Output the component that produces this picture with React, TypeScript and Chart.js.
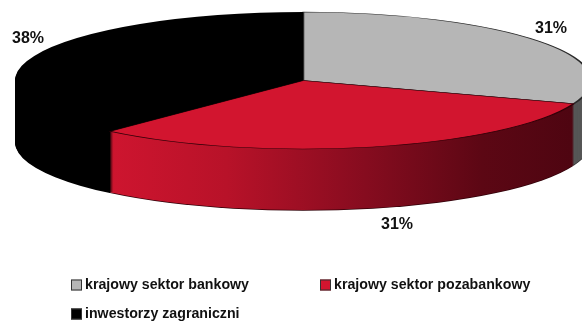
import React, { useEffect, useRef } from "react";
import { Chart, registerables } from "chart.js";

Chart.register(...registerables);

const categories = ["krajowy sektor bankowy", "krajowy sektor pozabankowy", "inwestorzy zagraniczni"];
const values = [30.5, 31.2, 38.3];
const valueLabels = ["31%", "31%", "38%"];
const topColors = ["#B6B6B6", "#D2152F", "#000000"];
const sideColors = ["#565656", "#D2152F", "#000000"];
const edgeColors = ["#2a2a2a", "#300008", "#000000"];
const topBorderWidths = [1.4, 1.4, 0];

const CX = 303, CY = 80.5, RX = 288, RY = 68.5, DEPTH = 61;
const labelPos: [number, number][] = [[551, 28], [397, 224], [28, 38]];
const legendPos: [number, number][] = [[71, 285], [320, 285], [71, 314]];

const pie3d = {
  id: "pie3d",
  beforeDatasetsDraw(chart: any) {
    const ctx = chart.ctx;
    const meta = chart.getDatasetMeta(0);
    const first = meta.data[0];
    const r = first.outerRadius;
    const sx = RX / r, sy = RY / r;
    const place = (dy: number) => {
      ctx.setTransform(1, 0, 0, 1, 0, 0);
      ctx.translate(CX, CY + dy);
      ctx.scale(sx, sy);
      ctx.translate(-first.x, -first.y);
    };
    const toLocal = (x: number) => (x - CX) / sx + first.x;
    const redGrad = ctx.createLinearGradient(toLocal(110), 0, toLocal(575), 0);
    redGrad.addColorStop(0, "#CE152F");
    redGrad.addColorStop(0.25, "#B81229");
    redGrad.addColorStop(0.55, "#860C1F");
    redGrad.addColorStop(0.8, "#5C0714");
    redGrad.addColorStop(1, "#4E0511");
    ctx.save();
    const paint = (arc: any, fill: any, border: any, width: number) => {
      const saved = arc.options;
      arc.options = { ...saved, backgroundColor: fill, borderColor: border, borderWidth: width };
      arc.draw(ctx);
      arc.options = saved;
    };
    place(DEPTH + 0.8);
    meta.data.forEach((arc: any, i: number) => paint(arc, edgeColors[i], edgeColors[i], 0));
    for (let d = DEPTH; d >= 1; d--) {
      place(d);
      meta.data.forEach((arc: any, i: number) => paint(arc, i === 1 ? redGrad : sideColors[i], "transparent", 0));
    }
    place(0);
  },
  afterDatasetsDraw(chart: any) {
    const ctx = chart.ctx;
    ctx.restore();
    ctx.setTransform(1, 0, 0, 1, 0, 0);
    ctx.save();
    ctx.fillStyle = "#111";
    ctx.textAlign = "center";
    ctx.textBaseline = "middle";
    ctx.font = 'bold 16px "Liberation Sans"';
    valueLabels.forEach((t, i) => ctx.fillText(t, labelPos[i][0], labelPos[i][1] + 1));
    ctx.textAlign = "left";
    ctx.font = 'bold 14.2px "Liberation Sans"';
    categories.forEach((t, i) => {
      const [x, y] = legendPos[i];
      ctx.fillStyle = topColors[i];
      ctx.fillRect(x, y - 5.5, 11, 11);
      ctx.strokeStyle = "#333";
      ctx.lineWidth = 1;
      ctx.strokeRect(x + 0.5, y - 5, 10, 10);
      ctx.fillStyle = "#111";
      ctx.fillText(t, x + 14, y + 0.5);
    });
    ctx.restore();
  },
};

export default function App() {
  const ref = useRef<HTMLCanvasElement>(null);
  useEffect(() => {
    const chart = new Chart(ref.current!, {
      type: "pie",
      data: {
        labels: categories,
        datasets: [{
          data: values,
          backgroundColor: topColors,
          borderColor: edgeColors,
          borderWidth: topBorderWidths,
          clip: false,
        } as any],
      },
      options: {
        animation: false,
        responsive: false,
        layout: { padding: 0 },
        plugins: { legend: { display: false }, tooltip: { enabled: false } },
      },
      plugins: [pie3d],
    });
    return () => chart.destroy();
  }, []);
  return (
    <div style={{ position: "fixed", left: 0, top: 0, width: 582, height: 322, background: "#fff" }}>
      <canvas ref={ref} width={582} height={322} style={{ display: "block" }} />
    </div>
  );
}
